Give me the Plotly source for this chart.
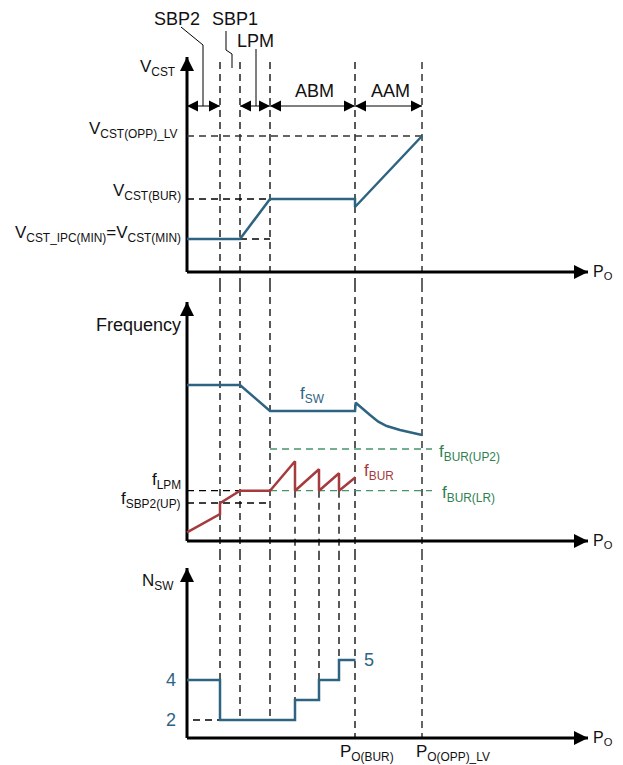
import plotly.graph_objects as go

# the page body adds an 8px margin, so the figure is drawn 8px smaller
W, H = 615, 757

BLUE = "#2E6482"
RED = "#A53B3D"
GREEN = "#45956A"
INK = "#000000"
GREY = "#555555"
FONT = "Liberation Sans, Arial, sans-serif"

# ── P_O axis (arbitrary units, 0 = origin) ──────────────────────────────
P_SBP2 = 33
P_SBP1 = 53
P_LPM = 83
P_STEPS = [108, 132, 152]
P_BUR = 168
P_OPP = 235
P_END = 401

# ── top panel: V_CST ────────────────────────────────────────────────────
V_MIN, V_BUR, V_OPP = 33, 73, 136
vcst_x = [0, P_SBP1, P_LPM, P_BUR, P_BUR, P_OPP]
vcst_y = [V_MIN, V_MIN, V_BUR, V_BUR, 65, V_OPP]
V_TIP, V_MARK, V_TOP = 215, 166, 210

# ── middle panel: frequency ─────────────────────────────────────────────
F_LPM, F_SBP2, F_UP2 = 50.3, 38, 92
fsw_x = [0, 53, 83, 168, 168.7, 173, 183, 191.3, 199.7, 213, 235]
fsw_y = [156, 156, 130, 130, 138.3, 134.3, 126, 119.3, 115, 111, 106]
fbur_x = [0, 33, 33, 53, 83, 108, 108, 132, 132, 152, 152, 168.5]
fbur_y = [8.7, 27, 37.7, 50.3, 50.3, 79.7, 50.3, 71.7, 50.3, 67.7, 50.3, 63.7]
F_TIP = 239

# ── bottom panel: number of switching phases ────────────────────────────
nsw_x = [0, 33, 33, 108, 108, 132, 132, 152, 152, 168.5]
nsw_y = [4, 4, 2, 2, 3, 3, 4, 4, 5, 5]
N_AXIS, N_TIP = 1.1, 9.6
STEP_LEVELS = [3, 4, 5]

# y ranges for each panel (bottom, top)
RANGES = {1: [-13, 264], 2: [-12, 256], 3: [-0.25, 10.35]}
XR = [-179, 436]

AX = {1: ("x", "y"), 2: ("x2", "y2"), 3: ("x3", "y3")}

fig = go.Figure()


def line(row, x, y, color=INK, width=1.3, dash=None):
    xa, ya = AX[row]
    fig.add_trace(go.Scatter(
        x=x, y=y, mode="lines", xaxis=xa, yaxis=ya,
        line=dict(color=color, width=width, dash=dash),
        hoverinfo="skip", showlegend=False,
    ))


def heads(row, x, y, symbols, size):
    xa, ya = AX[row]
    fig.add_trace(go.Scatter(
        x=x, y=y, mode="markers", xaxis=xa, yaxis=ya, cliponaxis=False,
        marker=dict(symbol=symbols, size=size, color=INK, line=dict(width=0)),
        hoverinfo="skip", showlegend=False,
    ))


def label(row, x, y, text, color="#111111", xanchor="center", size=17):
    xa, ya = AX[row]
    fig.add_annotation(
        x=x, y=y, xref=xa, yref=ya, text=text, showarrow=False,
        xanchor=xanchor, yanchor="middle",
        font=dict(family=FONT, size=size, color=color),
    )


DASH = "7px,5px"

# ── vertical dashed guides across all panels ────────────────────────────
for p, color, w in [(P_SBP2, INK, 1.3), (P_SBP1, INK, 1.3), (P_LPM, INK, 1.3),
                    (P_BUR, INK, 1.3), (P_OPP, GREY, 1.8)]:
    line(1, [p, p], [V_TOP, RANGES[1][0]], color, w, DASH)
    line(2, [p, p], [RANGES[2][1], RANGES[2][0]], color, w, DASH)
    bottom = 2 if p <= P_LPM else N_AXIS
    line(3, [p, p], [RANGES[3][1], bottom], color, w, DASH)

for p, lvl in zip(P_STEPS, STEP_LEVELS):
    line(2, [p, p], [F_LPM, RANGES[2][0]], INK, 1.3, DASH)
    line(3, [p, p], [RANGES[3][1], lvl], INK, 1.3, DASH)

# ── axes with arrow heads ───────────────────────────────────────────────
for row, origin, tip in [(1, 0, V_TIP), (2, 0, F_TIP), (3, N_AXIS, N_TIP)]:
    line(row, [0, 0], [origin, tip], INK, 3)
    line(row, [0, P_END], [origin, origin], INK, 3)
    heads(row, [0, P_END], [tip, origin], ["arrow-up", "arrow-right"], 14)
    label(row, P_END + 3, origin, "P<sub>O</sub>", xanchor="left", size=16)

# ── top panel ───────────────────────────────────────────────────────────
line(1, [0, P_OPP], [V_OPP, V_OPP], "#333333", 1.3, DASH)
line(1, [0, P_LPM], [V_BUR, V_BUR], INK, 1.3, DASH)
line(1, [P_SBP1, P_LPM], [V_MIN, V_MIN], INK, 1.3, DASH)
line(1, vcst_x, vcst_y, BLUE, 2.5)

# dimension arrows for the operating modes
for a, b in [(0, P_SBP2), (P_SBP1, P_LPM), (P_LPM, P_BUR), (P_BUR, P_OPP)]:
    line(1, [a, b], [V_MARK, V_MARK], INK, 1)
    heads(1, [a, b], [V_MARK, V_MARK], ["arrow-left", "arrow-right"], 11)

# leader lines for the labels
line(1, [-6, 16, 16], [245, 227, V_MARK], INK, 1)
line(1, [39, 39, 45, 45], [241, 222, 218, 204], INK, 1)
line(1, [69, 69], [223, V_MARK], INK, 1)

label(1, -10, 204, "V<sub>CST</sub>", xanchor="right")
label(1, -8, 142, "V<sub>CST(OPP)_LV</sub>", xanchor="right")
label(1, -4, 80, "V<sub>CST(BUR)</sub>", xanchor="right")
label(1, -4, 38, "V<sub>CST_IPC(MIN)</sub>=V<sub>CST(MIN)</sub>", xanchor="right")
label(1, -10, 253, "SBP2", size=18)
label(1, 48, 253, "SBP1", size=18)
label(1, 68, 231, "LPM", size=18)
label(1, 127, 181, "ABM", size=18)
label(1, 203, 181, "AAM", size=18)

# ── middle panel ────────────────────────────────────────────────────────
line(2, [0, P_LPM], [F_LPM, F_LPM], INK, 1.3, DASH)
line(2, [0, P_LPM], [F_SBP2, F_SBP2], INK, 1.3, DASH)
line(2, [P_LPM, P_OPP + 10], [F_UP2, F_UP2], GREEN, 1.3, DASH)
line(2, [P_LPM, P_OPP + 10], [F_LPM, F_LPM], GREEN, 1.3, DASH)
line(2, fsw_x, fsw_y, BLUE, 2.5)
line(2, fbur_x, fbur_y, RED, 2.5)

label(2, -4, 216, "Frequency", size=18, xanchor="right")
label(2, 125, 146, "f<sub>SW</sub>", BLUE)
label(2, 175, 69, "f<sub>BUR</sub>", RED, xanchor="left")
label(2, 250, 88, "f<sub>BUR(UP2)</sub>", "#2F7F50", xanchor="left")
label(2, 253, 47, "f<sub>BUR(LR)</sub>", "#2F7F50", xanchor="left")
label(2, -4, 60, "f<sub>LPM</sub>", xanchor="right")
label(2, -4, 41, "f<sub>SBP2(UP)</sub>", xanchor="right")

# ── bottom panel ────────────────────────────────────────────────────────
line(3, [6, 56], [2, 2], INK, 1.3, DASH)
line(3, nsw_x, nsw_y, BLUE, 2.5)

label(3, -11, 8.9, "N<sub>SW</sub>", xanchor="right")
label(3, -9, 4, "4", BLUE, size=18, xanchor="right")
label(3, -9, 2, "2", BLUE, size=18, xanchor="right")
label(3, 175, 5, "5", BLUE, size=18, xanchor="left")
label(3, 180, 0.35, "P<sub>O(BUR)</sub>")
label(3, 266, 0.35, "P<sub>O(OPP)_LV</sub>")

# ── layout ──────────────────────────────────────────────────────────────
hidden = dict(visible=False, showgrid=False, zeroline=False, fixedrange=True)
d1 = 1 - 277 / H
d2 = 1 - 545 / H
fig.update_layout(
    width=W, height=H,
    margin=dict(l=0, r=0, t=0, b=0),
    paper_bgcolor="white", plot_bgcolor="white",
    showlegend=False,
    xaxis=dict(hidden, range=XR, domain=[0, 1], anchor="y"),
    xaxis2=dict(hidden, range=XR, domain=[0, 1], anchor="y2"),
    xaxis3=dict(hidden, range=XR, domain=[0, 1], anchor="y3"),
    yaxis=dict(hidden, range=RANGES[1], domain=[d1, 1], anchor="x"),
    yaxis2=dict(hidden, range=RANGES[2], domain=[d2, d1], anchor="x2"),
    yaxis3=dict(hidden, range=RANGES[3], domain=[0, d2], anchor="x3"),
)

fig.write_html("out.html")
